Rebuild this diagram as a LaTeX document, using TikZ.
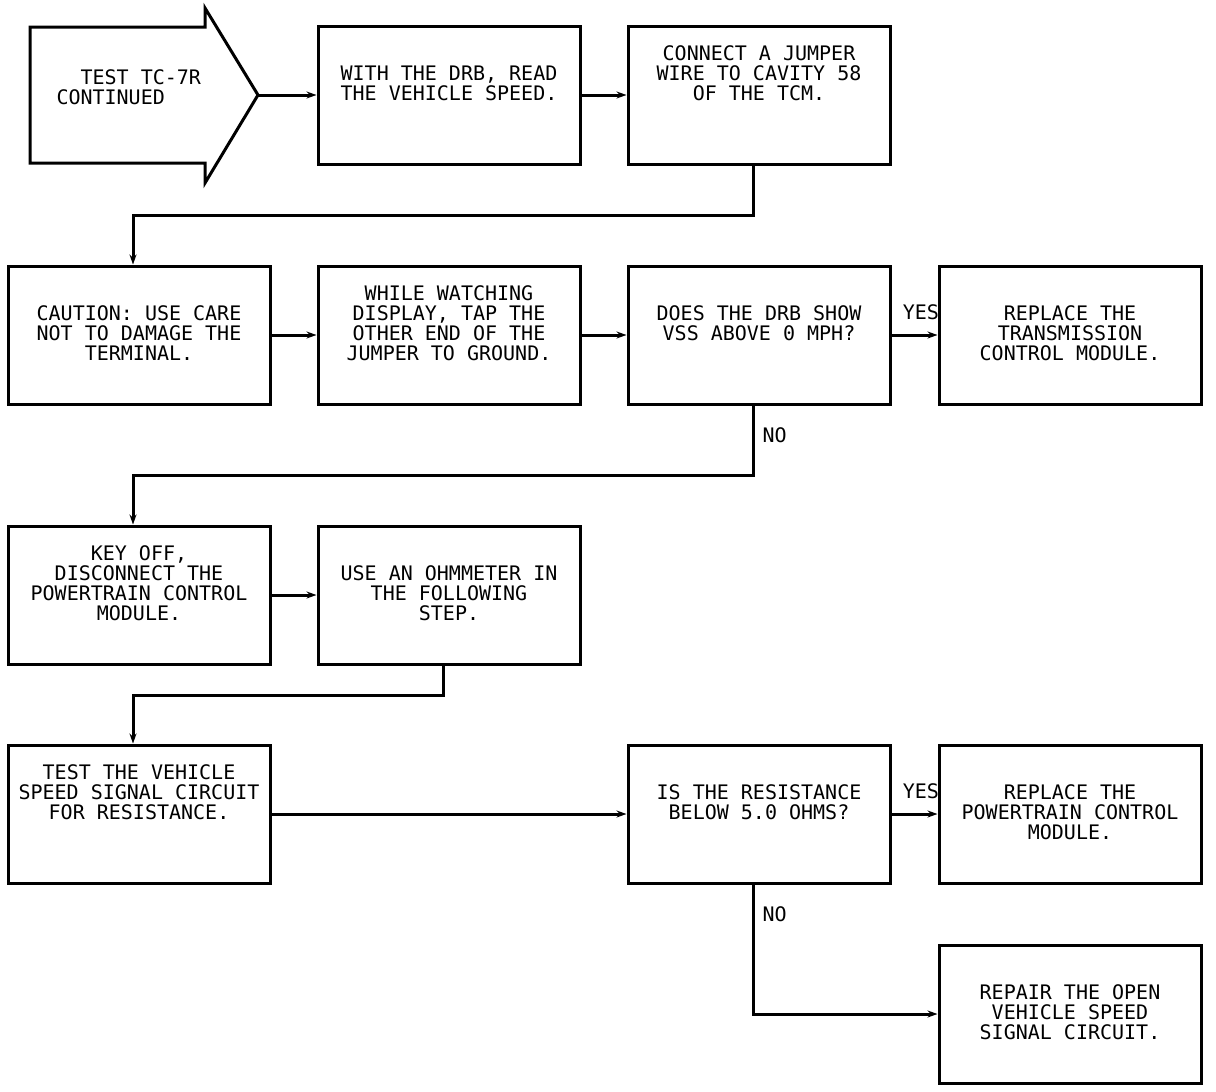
\documentclass[tikz,border=0pt]{standalone}
\usepackage{fontspec}
\newfontfamily\plotfont{DejaVu Sans Mono}
\usetikzlibrary{arrows.meta,positioning}

\begin{document}
\begin{tikzpicture}[x=0.5pt,y=-0.5pt,->,>={Stealth[length=5pt,width=3.5pt]},
                    line width=1.5pt,
  box/.style={draw,rectangle,minimum width=131pt,minimum height=69pt,inner sep=0pt},
  txt/.style={font=\fontsize{10}{10}\plotfont,align=center,inner sep=0pt},
  lbl/.style={font=\fontsize{10}{10}\plotfont,inner sep=0pt}]

\useasboundingbox (0,0) rectangle (1216,1092);

\draw[-] (30,27) -- (205,27) -- (205,8) -- (258,95) -- (205,183) -- (205,163) -- (30,163) -- cycle;
\coordinate (start) at (258,95);
\node[txt,anchor=north west,align=left] (start-t) at (55,68) {\phantom{XX}TEST TC-7R\\CONTINUED};

\node[box] (read) at (449,95) {};
\node[txt,below=20pt of read.north] (read-t) {WITH THE DRB, READ\\THE VEHICLE SPEED.};
\node[box] (jumper) at (759,95) {};
\node[txt,below=10pt of jumper.north] (jumper-t) {CONNECT A JUMPER\\WIRE TO CAVITY 58\\OF THE TCM.};

\node[box] (caution) at (139,335) {};
\node[txt,below=20pt of caution.north] (caution-t) {CAUTION: USE CARE\\NOT TO DAMAGE THE\\TERMINAL.};
\node[box] (tap) at (449,335) {};
\node[txt,below=10pt of tap.north] (tap-t) {WHILE WATCHING\\DISPLAY, TAP THE\\OTHER END OF THE\\JUMPER TO GROUND.};
\node[box] (vss) at (759,335) {};
\node[txt,below=20pt of vss.north] (vss-t) {DOES THE DRB SHOW\\VSS ABOVE 0 MPH?};
\node[box] (tcm) at (1070,335) {};
\node[txt,below=20pt of tcm.north] (tcm-t) {REPLACE THE\\TRANSMISSION\\CONTROL MODULE.};

\node[box] (keyoff) at (139,595) {};
\node[txt,below=10pt of keyoff.north] (keyoff-t) {KEY OFF,\\DISCONNECT THE\\POWERTRAIN CONTROL\\MODULE.};
\node[box] (ohm) at (449,595) {};
\node[txt,below=20pt of ohm.north] (ohm-t) {USE AN OHMMETER IN\\THE FOLLOWING\\STEP.};

\node[box] (circuit) at (139,814) {};
\node[txt,below=10pt of circuit.north] (circuit-t) {TEST THE VEHICLE\\SPEED SIGNAL CIRCUIT\\FOR RESISTANCE.};
\node[box] (ohms) at (759,814) {};
\node[txt,below=20pt of ohms.north] (ohms-t) {IS THE RESISTANCE\\BELOW 5.0 OHMS?};
\node[box] (pcm) at (1070,814) {};
\node[txt,below=20pt of pcm.north] (pcm-t) {REPLACE THE\\POWERTRAIN CONTROL\\MODULE.};

\node[box] (repair) at (1070,1014) {};
\node[txt,below=20pt of repair.north] (repair-t) {REPAIR THE OPEN\\VEHICLE SPEED\\SIGNAL CIRCUIT.};

\draw (start) -- (read);
\draw (read) -- (jumper);
\draw ([xshift=-3pt]jumper.south) -- ++(0,50) -| ([xshift=-3pt]caution.north);
\draw (caution) -- (tap);
\draw (tap) -- (vss);
\draw (vss) -- node[lbl,above=7pt,pos=0.64] (yes1) {YES} (tcm);
\draw ([xshift=-3pt]vss.south) -- node[lbl,right=4pt,pos=0.42] (no1) {NO} ++(0,70)
      -| ([xshift=-3pt]keyoff.north);
\draw (keyoff) -- (ohm);
\draw ([xshift=-3pt]ohm.south) -- ++(0,30) -| ([xshift=-3pt]circuit.north);
\draw (circuit) -- (ohms);
\draw (ohms) -- node[lbl,above=7pt,pos=0.64] (yes2) {YES} (pcm);
\draw ([xshift=-3pt]ohms.south) |- node[lbl,right=4pt,pos=0.115] (no2) {NO} (repair.west);

\end{tikzpicture}
\end{document}
